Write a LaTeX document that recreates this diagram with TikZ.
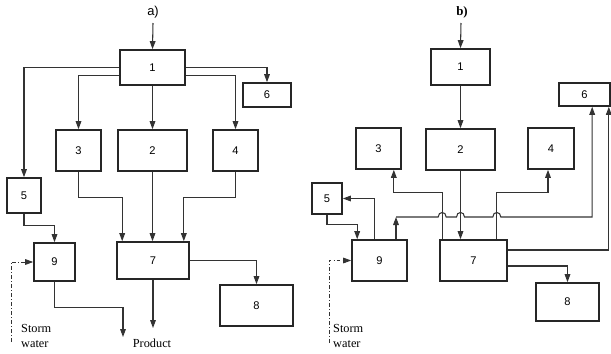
\documentclass[tikz,border=0pt]{standalone}
\usepackage{fontspec}
\setmainfont{Liberation Serif}
\setsansfont{Liberation Sans}
\usetikzlibrary{arrows.meta,calc,positioning}

\tikzset{
  blk/.style={draw=black!85, line width=1.4pt, inner sep=0pt, font=\sffamily\fontsize{9.5}{11}\selectfont},
  boxsize/.style 2 args={minimum width=#1*0.03cm, minimum height=#2*0.03cm},
  flow/.style={draw=black!80, line width=0.9pt, -{Triangle[length=2.4mm,width=1.7mm]}},
  storm/.style={draw=black!80, line width=0.7pt, dash dot, -{Triangle[length=2.4mm,width=1.7mm]}},
  lbl/.style={font=\fontsize{10.5}{12.5}\selectfont, inner sep=0pt},
}

\begin{document}
\begin{tikzpicture}[x=0.03cm, y=-0.03cm]
    \useasboundingbox (0,0) rectangle (611,353);

    % a) boxes
    \node[font=\sffamily\fontsize{11}{13}\selectfont] (atitle) at (153,12) {a)};
    \node[blk, boxsize={65}{35}] (a1) at (152.5,67.5) {1};
    \node[blk, boxsize={48}{24}] (a6) at (267,95) {6};
    \node[blk, boxsize={45}{41}] (a3) at (78.5,150.5) {3};
    \node[blk, boxsize={69}{41}] (a2) at (152.5,150.5) {2};
    \node[blk, boxsize={45}{41}] (a4) at (235.5,150.5) {4};
    \node[blk, boxsize={34}{35}] (a5) at (24,195.5) {5};
    \node[blk, boxsize={41}{38}] (a9) at (54.5,262) {9};
    \node[blk, boxsize={72}{37}] (a7) at (153,260.5) {7};
    \node[blk, boxsize={73}{41}] (a8) at (256.5,305.5) {8};
    \coordinate (ain) at (153,23);
    \coordinate (aprod) at (153,328);
    \coordinate (adrain) at (123,337);
    \coordinate (arain) at (11,342);

    % a) flows
    \draw[flow] (ain) -- (a1.north);
    \draw[flow] (a1.west) -| (a5.north);
    \draw[flow] (a1.east) -| (a6.north);
    \draw[flow] ($(a1.south west)+(0,-10)$) -| (a3.north);
    \draw[flow] ($(a1.south east)+(0,-10)$) -| (a4.north);
    \draw[flow] (a1) -- (a2);
    \draw[flow] (a3.south) -- ++(0,26) -| ($(a7.north west)+(6,0)$);
    \draw[flow] (a2.south) -- (a2.south |- a7.north);
    \draw[flow] (a4.south) -- ++(0,26) -| ($(a7.north east)+(-6,0)$);
    \draw[flow] (a7.east) -| (a8.north);
    \draw[flow] (a7.south) -- (aprod);
    \draw[flow] (a5.south) -- ++(0,12) -| (a9.north);
    \draw[flow] (a9.south) -- ++(0,26) -| (adrain);
    \draw[storm] (arain) |- (a9.west);
    \node[lbl, anchor=base] (aprodtext) at (152,347) {Product};
    \node[lbl, align=left, anchor=north west] (araintext) at (21,324) {Storm\\water};

    % b) boxes
    \node[font=\bfseries\fontsize{11}{13}\selectfont] (btitle) at (462,12) {b)};
    \node[blk, boxsize={59}{36}] (b1) at (460.5,67) {1};
    \node[blk, boxsize={69}{41}] (b2) at (460.5,149.5) {2};
    \node[blk, boxsize={45}{41}] (b3) at (378.5,148.5) {3};
    \node[blk, boxsize={46}{41}] (b4) at (551,148.5) {4};
    \node[blk, boxsize={51}{23}] (b6) at (584.5,94.5) {6};
    \node[blk, boxsize={30}{31}] (b5) at (327,198.5) {5};
    \node[blk, boxsize={55}{41}] (b9) at (379.5,260.5) {9};
    \node[blk, boxsize={67}{41}] (b7) at (473.5,260.5) {7};
    \node[blk, boxsize={63}{38}] (b8) at (567.5,302) {8};
    \coordinate (bin) at (461,23);
    \coordinate (brain) at (329,343);
    \coordinate (bbus) at (396,217);
    \coordinate (b7l) at ($(b7.north west)+(3,0)$);
    \coordinate (b7r) at ($(b7.north east)+(-11,0)$);

    % b) flows
    \draw[flow] (bin) -- (b1.north);
    \draw[flow] (b1) -- (b2);
    \draw[flow] (b2.south) -- (b2.south |- b7.north);
    \draw[flow] (b7l) -- ++(0,-47) -| ($(b3.south east)+(-8,0)$);
    \draw[flow] (b7r) -- ++(0,-47) -| ($(b4.south)+(-3,0)$);
    \draw[flow] ($(b7.east)+(0,-10.5)$) -| ($(b6.south east)+(-2,0)$);
    \draw[flow] ($(b7.east)+(0,5.5)$) -| (b8.north);
    \draw[flow] (b5.south) -- ++(0,10) -| ($(b9.north west)+(6,0)$);
    \draw[flow] ($(b9.north west)+(23,0)$) |- (b5.east);
    \draw[flow] (b9.north -| bbus) -- (bbus);
    % line from 9 to 6 hops over the others
    \draw[flow] (bbus) -- ($(b7l |- bbus)+(-4,0)$)
        .. controls ($(b7l |- bbus)+(-4,-6)$) and ($(b7l |- bbus)+(4,-6)$) .. ($(b7l |- bbus)+(4,0)$)
        -- ($(b2.south |- bbus)+(-4,0)$)
        .. controls ($(b2.south |- bbus)+(-4,-6)$) and ($(b2.south |- bbus)+(4,-6)$) .. ($(b2.south |- bbus)+(4,0)$)
        -- ($(b7r |- bbus)+(-4,0)$)
        .. controls ($(b7r |- bbus)+(-4,-6)$) and ($(b7r |- bbus)+(4,-6)$) .. ($(b7r |- bbus)+(4,0)$)
        -| ($(b6.south west)+(34,0)$);
    \draw[storm] (brain) |- (b9.west);
    \node[lbl, align=left, anchor=north west] (braintext) at (333,324) {Storm\\water};
\end{tikzpicture}
\end{document}
